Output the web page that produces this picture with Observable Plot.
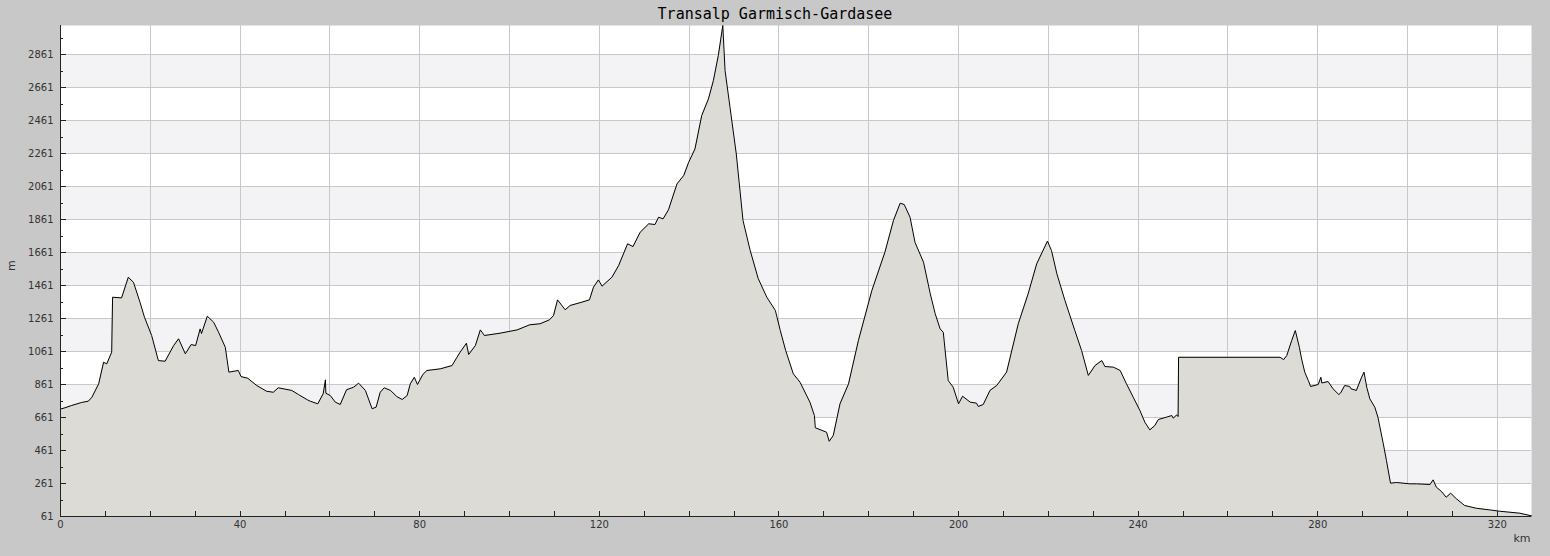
<!DOCTYPE html>
<html>
<head>
<meta charset="utf-8">
<script src="https://cdn.jsdelivr.net/npm/d3@7"></script>
<script src="https://cdn.jsdelivr.net/npm/@observablehq/plot@0.6"></script>
<style>
  html, body { margin: 0; padding: 0; background: #c8c8c8; width: 1550px; height: 556px; overflow: hidden; }
  #title { height: 25px; line-height: 29px; text-align: center; font-family: "DejaVu Sans Mono", monospace; font-size: 15px; color: #000; }
  #chart svg { display: block; }
</style>
</head>
<body>
<div id="title">Transalp Garmisch-Gardasee</div>
<div id="chart"></div>
<script>
const title = "Transalp Garmisch-Gardasee";
const xLabel = "km";
const yLabel = "m";

// distance (km) and elevation (m)
const km = [0.0,1.0,2.5,4.7,6.2,7.0,8.5,9.6,10.3,11.4,11.6,13.6,15.1,16.25,17.7,18.7,20.3,21.8,23.3,25.2,26.3,27.8,29.1,30.1,31.1,31.4,32.7,34.1,35.2,36.7,37.5,39.6,40.2,41.7,43.7,45.9,47.4,48.5,51.5,53.0,55.0,55.6,57.3,58.5,59.0,59.1,60.1,61.2,62.3,63.7,65.3,66.4,67.9,69.4,70.3,71.2,72.1,73.5,74.9,76.1,77.2,77.9,78.8,79.5,80.7,81.6,84.6,87.2,88.3,89.0,90.4,90.9,92.4,93.5,94.4,97.9,101.7,104.5,106.8,108.9,109.8,110.7,112.4,113.5,116.1,117.8,118.7,119.8,120.6,122.8,124.3,126.3,127.5,129.1,131.0,132.4,133.2,134.2,135.4,137.3,138.8,139.9,141.3,142.8,144.3,145.4,146.5,147.5,148.0,149.1,150.5,152.0,153.6,155.4,157.3,159.2,160.3,161.5,163.2,164.7,166.9,167.9,168.1,170.6,171.2,172.1,173.6,175.5,177.7,180.7,183.6,185.5,187.0,187.9,189.2,190.3,192.2,193.7,194.8,195.9,196.6,197.7,198.8,200.0,200.9,202.6,204.0,204.4,205.5,207.0,208.5,210.7,213.3,215.5,217.4,219.8,220.7,221.9,223.7,225.9,227.4,228.9,230.4,231.9,232.6,234.5,236.0,237.4,238.9,240.4,241.5,242.6,243.7,244.5,246.3,247.5,247.8,248.6,248.9,249.0,271.6,272.4,273.1,274.2,275.0,275.9,276.4,277.1,277.9,278.4,280.1,280.7,280.9,282.3,283.4,284.7,285.1,286.0,287.1,287.4,288.6,289.7,290.3,290.9,291.6,292.7,293.4,294.6,295.3,296.2,297.5,300.5,302.0,305.0,305.7,306.4,307.5,308.6,309.6,310.9,312.7,315.3,318.3,320.5,325.0,327.6];
const elevation = [712,720,734,752,760,784,865,996,986,1057,1390,1386,1511,1481,1360,1269,1158,1006,1002,1097,1138,1047,1103,1097,1198,1170,1275,1239,1178,1087,936,946,909,899,855,820,814,841,825,800,768,760,744,805,889,808,794,754,740,829,845,869,825,714,724,814,841,825,788,770,794,865,905,861,922,946,956,976,1026,1057,1111,1043,1097,1192,1158,1172,1192,1223,1229,1253,1279,1374,1314,1340,1360,1374,1451,1495,1457,1511,1582,1714,1697,1784,1835,1831,1875,1865,1920,2077,2128,2208,2289,2491,2592,2703,2855,3037,2764,2542,2259,1855,1673,1502,1390,1310,1188,1067,926,875,754,673,599,572,517,552,744,865,1128,1431,1663,1855,1960,1952,1875,1723,1602,1411,1290,1198,1178,885,845,744,790,754,748,728,740,825,855,936,1229,1411,1592,1730,1673,1532,1370,1188,1067,916,976,1006,970,966,946,865,784,703,632,586,612,649,663,673,657,677,667,1026,1026,1012,1037,1128,1188,1087,1016,936,885,849,861,905,870,879,835,800,810,855,849,835,825,901,936,845,774,724,663,501,400,263,267,259,259,255,283,239,214,178,202,168,128,111,101,93,81,65];

const yTicks = [61,261,461,661,861,1061,1261,1461,1661,1861,2061,2261,2461,2661,2861];
const yMinorTicks = [161,361,561,761,961,1161,1361,1561,1761,1961,2161,2361,2561,2761,2961];
const xTicks = [0,40,80,120,160,200,240,280,320];
const xGrid = [0,20,40,60,80,100,120,140,160,180,200,220,240,260,280,300,320];
const xMinorTicks = [10,20,30,50,60,70,90,100,110,130,140,150,170,180,190,210,220,230,250,260,270,290,300,310];
const bandLow = [261,661,1061,1461,1861,2261,2661];
const bandHigh = [461,861,1261,1661,2061,2461,2861];

const profile = km.map((k, i) => ({km: k, m: elevation[i]}));
const bands = bandLow.map((lo, i) => ({lo, hi: bandHigh[i]}));
const plain = d => String(d);

const chart = Plot.plot({
  width: 1550,
  height: 531,
  marginTop: 0,
  marginBottom: 40,
  marginLeft: 60,
  marginRight: 19,
  style: {background: "transparent", fontFamily: "DejaVu Sans, sans-serif", fontSize: "10px", color: "#333"},
  x: {domain: [0, 327.6]},
  y: {domain: [61, 3037]},
  marks: [
    Plot.frame({fill: "#ffffff", stroke: null}),
    Plot.rect(bands, {y1: "lo", y2: "hi", fill: "#f3f2f5"}),
    Plot.gridX(xGrid, {stroke: "#c8c8c8", strokeOpacity: 1, shapeRendering: "crispEdges"}),
    Plot.gridY(yTicks, {stroke: "#c8c8c8", strokeOpacity: 1, shapeRendering: "crispEdges"}),
    Plot.areaY(profile, {x: "km", y1: 61, y2: "m", fill: "#dcdbd6"}),
    Plot.lineY(profile, {x: "km", y: "m", stroke: "#000", strokeWidth: 1}),
    Plot.ruleX([0], {stroke: "#222", shapeRendering: "crispEdges"}),
    Plot.ruleY([61], {stroke: "#222", shapeRendering: "crispEdges"}),
    Plot.axisY(yTicks, {tickSize: 0, tickPadding: 7, tickFormat: plain, fill: "#333", fontSize: 10}),
    Plot.axisY(yTicks, {tickSize: -6, text: null, stroke: "#222", shapeRendering: "crispEdges"}),
    Plot.axisY(yMinorTicks, {tickSize: -3, text: null, stroke: "#222", shapeRendering: "crispEdges"}),
    Plot.axisX(xTicks, {tickSize: 0, tickPadding: 4, tickFormat: plain, fill: "#333", fontSize: 10, label: null}),
    Plot.axisX(xGrid, {tickSize: -5, text: null, stroke: "#222", shapeRendering: "crispEdges", label: null}),
    Plot.axisX(xMinorTicks, {tickSize: -5, text: null, stroke: "#222", shapeRendering: "crispEdges", label: null}),
    Plot.text([xLabel], {frameAnchor: "bottom-right", textAnchor: "end", lineAnchor: "bottom", dx: -1, dy: 25, fill: "#333", fontSize: 11}),
    Plot.text([yLabel], {frameAnchor: "left", rotate: -90, dx: -49, fill: "#333", fontSize: 11})
  ]
});
document.getElementById("chart").appendChild(chart);
</script>
</body>
</html>
